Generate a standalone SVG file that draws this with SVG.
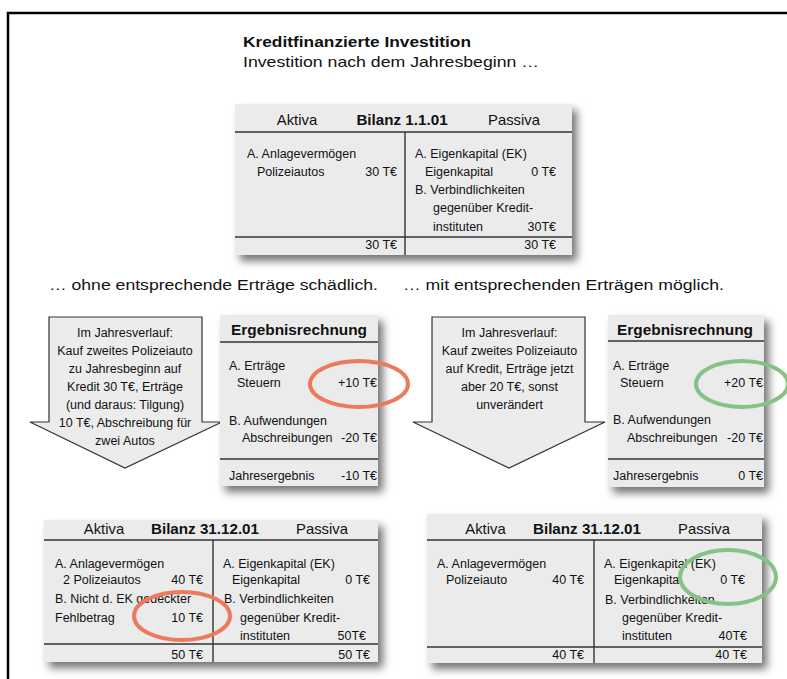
<svg xmlns="http://www.w3.org/2000/svg" width="787" height="679" viewBox="0 0 787 679">
<defs>
<filter id="sh" x="-10%" y="-10%" width="130%" height="135%">
<feDropShadow dx="5" dy="6" stdDeviation="4" flood-color="#000" flood-opacity="0.55"/>
</filter>
</defs>
<style>
text{font-family:"Liberation Sans",Arial,sans-serif;fill:#111;}
.b{font-size:12.5px;}
.e{font-size:12.5px;text-anchor:end;}
.m{font-size:12.5px;text-anchor:middle;}
.h{font-size:14.8px;text-anchor:middle;}
.hb{font-size:15.2px;font-weight:bold;text-anchor:middle;}
.box{fill:#ebebeb;filter:url(#sh);}
.ln{stroke:#333;stroke-width:1.4;fill:none;}
.arr{fill:#ececec;stroke:#333;stroke-width:1.2;}
.or{fill:none;stroke:#ec7a5c;stroke-width:4;}
.gr{fill:none;stroke:#84c285;stroke-width:4;}
</style>
<rect width="787" height="679" fill="#fff"/>
<path d="M8 681 V13 H790" fill="none" stroke="#000" stroke-width="2.5"/>

<g id="title">
<text x="243" y="47" font-size="14.5" font-weight="bold" textLength="228" lengthAdjust="spacingAndGlyphs">Kreditfinanzierte Investition</text>
<text x="243" y="67" font-size="14.5" textLength="296" lengthAdjust="spacingAndGlyphs">Investition nach dem Jahresbeginn …</text>
</g>

<g id="bilanz-0101">
<rect class="box" x="235" y="104" width="337" height="151"/>
<line class="ln" x1="235" y1="132" x2="572" y2="132"/>
<line class="ln" x1="405" y1="132" x2="405" y2="255"/>
<line class="ln" x1="235" y1="237" x2="572" y2="237"/>
<text class="h" x="297" y="125">Aktiva</text>
<text class="hb" x="402" y="125">Bilanz 1.1.01</text>
<text class="h" x="514" y="125">Passiva</text>
<text class="b" x="247" y="158">A. Anlagevermögen</text>
<text class="b" x="257" y="176">Polizeiautos</text>
<text class="e" x="397" y="176">30 T€</text>
<text class="b" x="415" y="158">A. Eigenkapital (EK)</text>
<text class="b" x="425" y="176">Eigenkapital</text>
<text class="e" x="556" y="176">0 T€</text>
<text class="b" x="415" y="194">B. Verbindlichkeiten</text>
<text class="b" x="433" y="212">gegenüber  Kredit-</text>
<text class="b" x="433" y="231">instituten</text>
<text class="e" x="556" y="231">30T€</text>
<text class="e" x="397" y="249">30 T€</text>
<text class="e" x="556" y="249">30 T€</text>
</g>

<g id="captions">
<text x="49" y="289.5" font-size="15.5" textLength="329" lengthAdjust="spacingAndGlyphs">… ohne entsprechende Erträge schädlich.</text>
<text x="403" y="289.5" font-size="15.5" textLength="321" lengthAdjust="spacingAndGlyphs">… mit entsprechenden Erträgen möglich.</text>
</g>

<g id="connectors">
<g id="arrow-left">
<polygon class="arr" points="49,317 202,317 202,422 222,422 125,468 30,422 49,422"/>
<text class="m" x="125" y="337">Im Jahresverlauf:</text>
<text class="m" x="125" y="355">Kauf zweites Polizeiauto</text>
<text class="m" x="125" y="373">zu Jahresbeginn  auf</text>
<text class="m" x="125" y="391">Kredit 30  T€, Erträge</text>
<text class="m" x="125" y="409">(und daraus: Tilgung)</text>
<text class="m" x="125" y="427">10 T€,  Abschreibung für</text>
<text class="m" x="125" y="445">zwei Autos</text>
</g>
<g id="arrow-right">
<polygon class="arr" points="432,317 585,317 585,422 605,422 509,468 413,422 432,422"/>
<text class="m" x="509.5" y="337">Im Jahresverlauf:</text>
<text class="m" x="509.5" y="355">Kauf zweites Polizeiauto</text>
<text class="m" x="509.5" y="373">auf Kredit, Erträge jetzt</text>
<text class="m" x="509.5" y="391">aber 20 T€, sonst</text>
<text class="m" x="509.5" y="409">unverändert</text>
</g>
</g>

<g id="ergebnis-left">
<rect class="box" x="220" y="315" width="158" height="171"/>
<line class="ln" x1="220" y1="342" x2="378" y2="342"/>
<line class="ln" x1="220" y1="459" x2="378" y2="459"/>
<text class="hb" x="299" y="335" style="font-size:15.4px">Ergebnisrechnung</text>
<text class="b" x="229" y="370">A. Erträge</text>
<text class="b" x="237" y="387">Steuern</text>
<text class="e" x="377" y="387">+10 T€</text>
<text class="b" x="229" y="425">B. Aufwendungen</text>
<text class="b" x="242" y="442">Abschreibungen</text>
<text class="e" x="377" y="442">-20 T€</text>
<text class="b" x="229" y="480">Jahresergebnis</text>
<text class="e" x="377" y="480">-10 T€</text>
<ellipse class="or" cx="359" cy="384" rx="49" ry="23"/>
</g>

<g id="ergebnis-right">
<rect class="box" x="608" y="315" width="156" height="172"/>
<line class="ln" x1="608" y1="341" x2="764" y2="341"/>
<line class="ln" x1="608" y1="459" x2="764" y2="459"/>
<text class="hb" x="685" y="335" style="font-size:15.4px">Ergebnisrechnung</text>
<text class="b" x="613" y="370">A. Erträge</text>
<text class="b" x="620" y="387">Steuern</text>
<text class="e" x="763" y="387">+20 T€</text>
<text class="b" x="613" y="424">B. Aufwendungen</text>
<text class="b" x="627" y="442">Abschreibungen</text>
<text class="e" x="763" y="442">-20 T€</text>
<text class="b" x="613" y="480">Jahresergebnis</text>
<text class="e" x="763" y="480">0 T€</text>
<ellipse class="gr" cx="742" cy="384" rx="46" ry="23"/>
</g>

<g id="bilanz-3112-left">
<rect class="box" x="44" y="520" width="334" height="142"/>
<line class="ln" x1="44" y1="540" x2="378" y2="540"/>
<line class="ln" x1="213" y1="540" x2="213" y2="662"/>
<line class="ln" x1="44" y1="644" x2="378" y2="644"/>
<text class="h" x="104" y="534">Aktiva</text>
<text class="hb" x="205" y="534">Bilanz 31.12.01</text>
<text class="h" x="322" y="534">Passiva</text>
<text class="b" x="55" y="568">A. Anlagevermögen</text>
<text class="b" x="63" y="584">2 Polizeiautos</text>
<text class="e" x="203" y="584">40 T€</text>
<text class="b" x="55" y="603">B. Nicht d. EK gedeckter</text>
<text class="b" x="55" y="622">Fehlbetrag</text>
<text class="e" x="203" y="622">10 T€</text>
<text class="b" x="223" y="568">A. Eigenkapital (EK)</text>
<text class="b" x="232" y="584">Eigenkapital</text>
<text class="e" x="370" y="584">0 T€</text>
<text class="b" x="224" y="603">B. Verbindlichkeiten</text>
<text class="b" x="240" y="622">gegenüber  Kredit-</text>
<text class="b" x="240" y="640">instituten</text>
<text class="e" x="366" y="640">50T€</text>
<text class="e" x="203" y="659">50 T€</text>
<text class="e" x="370" y="659">50 T€</text>
<ellipse class="or" cx="182" cy="616" rx="48" ry="24"/>
</g>

<g id="bilanz-3112-right">
<rect class="box" x="427" y="514" width="335" height="149"/>
<line class="ln" x1="427" y1="540" x2="762" y2="540"/>
<line class="ln" x1="594" y1="540" x2="594" y2="663"/>
<line class="ln" x1="427" y1="647" x2="762" y2="647"/>
<text class="h" x="485.5" y="534">Aktiva</text>
<text class="hb" x="587" y="534">Bilanz 31.12.01</text>
<text class="h" x="704" y="534">Passiva</text>
<text class="b" x="437" y="568">A. Anlagevermögen</text>
<text class="b" x="446" y="584">Polizeiauto</text>
<text class="e" x="584" y="584">40 T€</text>
<text class="b" x="604" y="568">A. Eigenkapital (EK)</text>
<text class="b" x="614" y="584">Eigenkapital</text>
<text class="e" x="745" y="584">0 T€</text>
<text class="b" x="605" y="604">B. Verbindlichkeiten</text>
<text class="b" x="622" y="622">gegenüber  Kredit-</text>
<text class="b" x="622" y="640">instituten</text>
<text class="e" x="747" y="640">40T€</text>
<text class="e" x="584" y="659">40 T€</text>
<text class="e" x="747" y="659">40 T€</text>
<ellipse class="gr" cx="728" cy="577" rx="48" ry="27"/>
</g>
</svg>
